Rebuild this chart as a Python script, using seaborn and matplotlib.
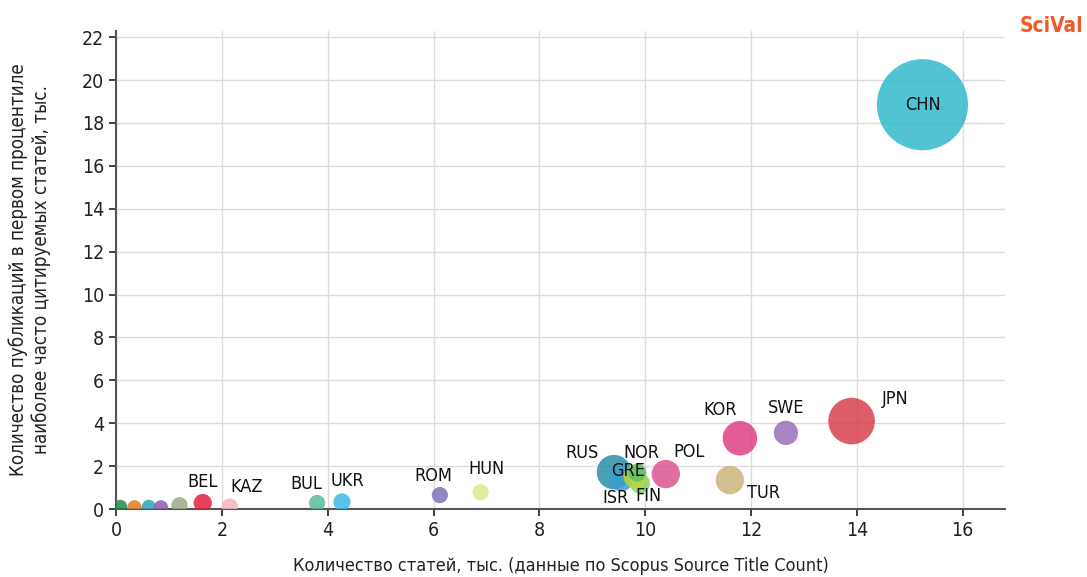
"""
Bubble chart: articles vs top-1% cited publications by country (SciVal)
"""

# Dependencies
import numpy as np
import pandas as pd
import seaborn as sns
import matplotlib
matplotlib.use('Agg')
import matplotlib.pyplot as plt

# Data
countries = ['CHN', 'JPN', 'SWE', 'KOR', 'TUR', 'POL', 'RUS', 'ISR', 'FIN', 'GRE', 'NOR',
             'HUN', 'ROM', 'UKR', 'BUL', 'KAZ', 'BEL', 'S1', 'S2', 'S3', 'S4', 'S5']
articles = [15.24, 13.9, 12.66, 11.79, 11.6, 10.39, 9.41, 9.55, 9.9, 9.8, 9.85,
            6.89, 6.12, 4.27, 3.8, 2.15, 1.64, 0.08, 0.35, 0.62, 0.85, 1.2]
top_cited = [18.85, 4.1, 3.55, 3.3, 1.35, 1.63, 1.72, 1.4, 1.2, 1.5, 1.7,
             0.78, 0.65, 0.33, 0.28, 0.12, 0.28, 0.1, 0.08, 0.1, 0.08, 0.18]
bubble = [2025, 530, 144, 290, 196, 196, 290, 144, 100, 120, 80,
          64, 64, 72, 64, 64, 81, 49, 49, 49, 49, 64]
colors = ['#33b9cc', '#d8404e', '#9b70b9', '#df3f83', '#c9b47c', '#d9568f', '#2b8ea5',
          '#3aa0d0', '#8fd05a', '#b9d63d', '#5fbf6b',
          '#dbe98e', '#7c74b8', '#3db9e8', '#5cb99b', '#f4b3bd', '#e0203e',
          '#1f8a4c', '#e07a2c', '#2aa6b8', '#8a5cb0', '#9aaa88']
# label offsets in points relative to bubble centre
label_offsets = {'CHN': (0, 0), 'JPN': (31, 16), 'SWE': (0, 18), 'KOR': (-14, 20),
                 'TUR': (24, -9), 'POL': (17, 16), 'RUS': (-23, 14), 'ISR': (-4, -14),
                 'FIN': (6, -9), 'GRE': (-5, 4), 'NOR': (3, 14),
                 'HUN': (4, 17), 'ROM': (-5, 14), 'UKR': (4, 15), 'BUL': (-8, 14),
                 'KAZ': (12, 14), 'BEL': (0, 15)}

df = pd.DataFrame({'country': countries, 'articles': articles,
                   'top_cited': top_cited, 'bubble': bubble})
palette = dict(zip(countries, colors))

# Style
sns.set_style('whitegrid')
plt.rcParams['font.family'] = ['DejaVu Sans']
plt.rcParams['font.stretch'] = 'condensed'

fig = plt.figure(figsize=(10.87, 5.77), dpi=100)
ax = fig.add_axes([0.1067, 0.1178, 0.8179, 0.8290])

max_b = max(bubble)
sns.scatterplot(data=df, x='articles', y='top_cited', hue='country', palette=palette,
                size='bubble', sizes=(0, 4300), size_norm=(0, max_b),
                alpha=0.85, edgecolor='none', legend=False, ax=ax, zorder=3)

for c, x, y in zip(countries, articles, top_cited):
    if c in label_offsets:
        dx, dy = label_offsets[c]
        ax.annotate(c, (x, y), xytext=(dx, dy), textcoords='offset points',
                    ha='center', va='center', fontsize=13, color='#111111', zorder=5)

ax.set_xlim(0, 16.8)
ax.set_ylim(0, 22.3)
ax.set_xticks(range(0, 17, 2))
ax.set_yticks(range(0, 23, 2))
ax.tick_params(axis='both', labelsize=14, colors='#222222', length=5, width=1.2,
               direction='out', left=True, bottom=True)
ax.grid(True, color='#dcdcdc', linewidth=1.0)
for side in ['top', 'right']:
    ax.spines[side].set_visible(False)
for side in ['left', 'bottom']:
    ax.spines[side].set_color('#555555')
    ax.spines[side].set_linewidth(1.5)

ax.set_xlabel('Количество статей, тыс. (данные по Scopus Source Title Count)',
              fontsize=13, color='#222222', labelpad=12)
ax.set_ylabel('Количество публикаций в первом процентиле\nнаиболее часто цитируемых статей, тыс.',
              fontsize=13.5, color='#222222', labelpad=22)

fig.text(0.997, 0.955, 'SciVal', ha='right', va='center', fontsize=15,
         fontweight='bold', color='#f05a28')

plt.savefig('out.png', dpi=100)
plt.close()
